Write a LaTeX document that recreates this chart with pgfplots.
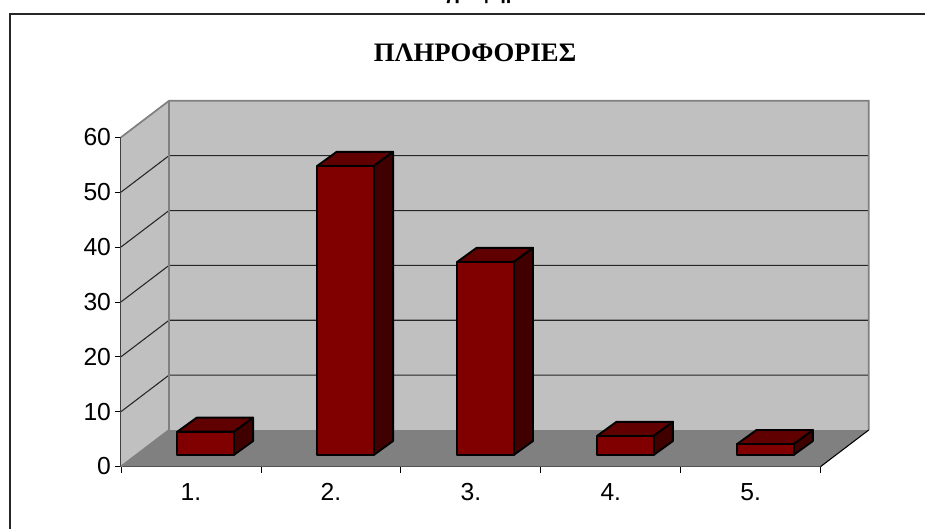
\documentclass[border=0pt]{standalone}
\usepackage{pgfplots}
\pgfplotsset{compat=1.18}
\usepackage{fontspec}
\setmainfont{Liberation Sans}
\newfontfamily\titlefont{Liberation Serif}
\definecolor{wallc}{HTML}{C0C0C0}
\definecolor{floorc}{HTML}{808080}
\definecolor{barf}{HTML}{800000}
\definecolor{bart}{HTML}{600000}
\definecolor{bars}{HTML}{400000}
\definecolor{axc}{HTML}{404040}
% one category slot: 139.9 px, one value unit: 5.487 px; floor depth 0.343 / 6.65
\newcommand{\threedbar}[2]{%
  % #1 = category index (0-based), #2 = value
  \pgfmathsetmacro{\xa}{#1+0.403}%
  \pgfmathsetmacro{\xb}{#1+0.806}%
  \pgfmathsetmacro{\xc}{#1+0.944}%
  \pgfmathsetmacro{\xd}{#1+0.541}%
  \pgfmathsetmacro{\yt}{2.1+#2}%
  \pgfmathsetmacro{\ytt}{4.65+#2}%
  \addplot[draw=black,line width=1.45pt,fill=bars,line join=round] coordinates {(\xb,2.1) (\xc,4.65) (\xc,\ytt) (\xb,\yt)} -- cycle;
  \addplot[draw=black,line width=1.45pt,fill=bart,line join=round] coordinates {(\xa,\yt) (\xb,\yt) (\xc,\ytt) (\xd,\ytt)} -- cycle;
  \addplot[draw=black,line width=1.45pt,fill=barf,line join=round] coordinates {(\xa,2.1) (\xb,2.1) (\xb,\yt) (\xa,\yt)} -- cycle;
}
\newcommand{\gridl}[2]{\addplot[black!85,line width=0.8pt] coordinates {(0,#1) (0.343,#2) (5.343,#2)};}
\begin{document}
\begin{tikzpicture}[x=0.75pt,y=0.75pt]
\useasboundingbox (0,0) rectangle (925,529);
\fill[white] (0,0) rectangle (925,529);
% frame: top and left edges only
\draw[black!85,line width=1.3pt] (10,0) -- (10,515) -- (925,515);
\begin{scope}
\clip (400,525) rectangle (560,529);
\node[anchor=base,font=\bfseries\fontsize{15}{18}\selectfont] at (487,529) {γράφημα};
\end{scope}
\node[font=\titlefont\bfseries\fontsize{20}{24}\selectfont] at (475,476) {ΠΛΗΡΟΦΟΡΙΕΣ};
\begin{axis}[
  at={(90.75pt,46.875pt)},anchor=south west,
  scale only axis,width=524.8pt,height=246.9pt,
  xmin=0,xmax=5,ymin=0,ymax=60,
  clip=false,
  axis x line*=bottom,axis y line*=left,
  axis line style={-},
  x axis line style={black,line width=0.9pt},
  y axis line style={axc,line width=1.3pt},
  xtick={0.5,1.5,2.5,3.5,4.5},
  xticklabels={1.,2.,3.,4.,5.},
  minor xtick={0,1,2,3,4,5},
  major tick length=4.5pt,
  minor tick length=4.5pt,
  major x tick style={draw=none},
  minor x tick style={draw=black,line width=0.6pt},
  ytick={0,10,...,60},
  major y tick style={draw=black,line width=0.6pt},
  tick align=outside,
  tick label style={font=\fontsize{18.5}{22}\selectfont},
  /pgf/number format/assume math mode=true,
  y tick label style={xshift=0.5pt},
  x tick label style={yshift=-4.5pt},
]
% walls and floor
\addplot[draw=none,fill=wallc] coordinates {(0,0) (0.343,6.65) (5.343,6.65) (5.343,66.65) (0.343,66.65) (0,60)} -- cycle;
\addplot[draw=none,fill=floorc] coordinates {(0,0) (5,0) (5.343,6.65) (0.343,6.65)} -- cycle;
% gridlines
\gridl{10}{16.65}
\gridl{20}{26.65}
\gridl{30}{36.65}
\gridl{40}{46.65}
\gridl{50}{56.65}
% wall edges
\addplot[floorc,line width=1.3pt] coordinates {(0,60) (0.343,66.65) (5.343,66.65) (5.343,6.65)};
\addplot[floorc,line width=1.3pt] coordinates {(0.343,66.65) (0.343,6.65) (0,0)};
\addplot[black,line width=0.8pt] coordinates {(5,0) (5.343,6.65)};
\threedbar{0}{4.25}
\threedbar{1}{52.7}
\threedbar{2}{35.2}
\threedbar{3}{3.5}
\threedbar{4}{2.0}
\end{axis}
\end{tikzpicture}
\end{document}
